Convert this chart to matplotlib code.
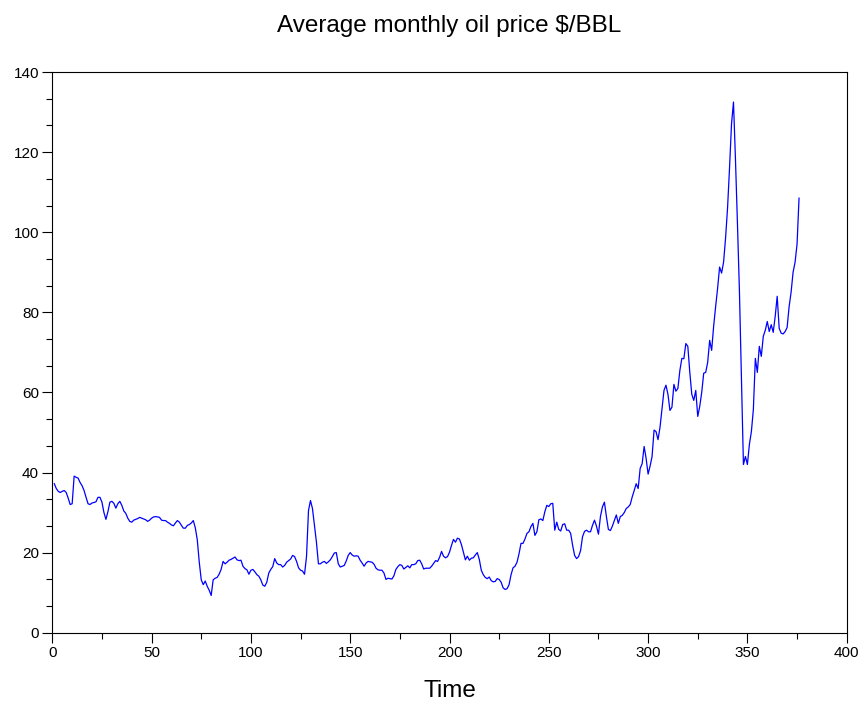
import numpy as np
import matplotlib.pyplot as plt
from matplotlib.ticker import MultipleLocator

plt.rcParams['font.family'] = ['Liberation Sans', 'DejaVu Sans']

# monthly average price, $/BBL (month 1 = Jan 1980)
price_1980_1989 = [
    37.2, 36.0, 35.3, 35.0, 35.3, 35.5, 35.0, 33.6, 32.0, 32.2, 39.1, 38.8,
    38.6, 37.5, 36.7, 35.5, 33.8, 32.2, 32.0, 32.4, 32.5, 32.7, 33.8, 33.8,
    32.6, 30.0, 28.3, 30.2, 32.6, 32.8, 32.3, 31.1, 32.2, 32.8, 31.8, 30.4,
    29.8, 28.6, 27.8, 27.6, 28.1, 28.3, 28.5, 28.8, 28.6, 28.4, 28.2, 27.8,
    28.1, 28.6, 28.9, 29.0, 28.9, 28.8, 28.1, 28.0, 28.0, 27.6, 27.3, 26.9,
    26.7, 27.4, 28.0, 27.6, 26.8, 26.1, 26.1, 26.8, 27.0, 27.4, 28.0, 26.2,
    23.2, 17.6, 13.2, 12.0, 12.9, 11.6, 10.6, 9.3, 13.2, 13.6, 13.8, 14.6,
    15.8, 17.8, 17.2, 17.6, 18.1, 18.3, 18.6, 18.9, 18.2, 18.0, 18.1, 16.6,
    16.0, 15.7, 14.6, 15.6, 15.8, 15.2, 14.5, 14.1, 13.2, 11.9, 11.6, 12.6,
    14.9, 15.8, 16.5, 18.5, 17.4, 17.0, 17.0, 16.4, 16.8, 17.6, 18.0, 18.4,
]
price_1990_1999 = [
    19.3, 19.0, 17.8, 16.2, 15.6, 15.4, 14.6, 19.0, 30.5, 33.0, 31.0, 26.8,
    22.6, 17.2, 17.2, 17.6, 17.8, 17.3, 17.7, 18.2, 19.0, 19.9, 20.0, 17.2,
    16.4, 16.6, 16.8, 17.9, 19.3, 20.0, 19.4, 19.1, 19.2, 19.1, 18.1, 17.4,
    16.6, 17.4, 17.8, 17.7, 17.6, 17.1, 16.1, 15.7, 15.6, 15.6, 14.9, 13.3,
    13.6, 13.5, 13.4, 14.2, 15.8, 16.5, 17.0, 16.8, 15.9, 16.3, 16.7, 16.2,
    17.0, 17.0, 17.2, 18.0, 18.1, 17.2, 15.9, 16.1, 16.1, 16.1, 16.6, 17.3,
    18.0, 17.8, 18.8, 20.3, 19.1, 18.7, 19.0, 20.1, 21.8, 23.3, 22.6, 23.6,
    23.4, 22.0, 20.1, 18.2, 19.1, 18.1, 18.6, 18.7, 19.4, 20.0, 18.3, 15.6,
    14.5, 13.8, 13.5, 13.9, 13.0, 12.7, 12.8, 13.5, 13.3, 12.6, 11.2, 10.8,
    11.0, 12.0, 14.5, 16.2, 16.6, 17.6, 19.7, 22.3, 22.3, 23.4, 24.8, 25.2,
]
price_2000_2011 = [
    26.5, 27.3, 24.3, 25.2, 28.2, 28.4, 28.0, 30.2, 31.8, 31.5, 32.2, 32.3,
    25.6, 27.6, 25.8, 25.4, 27.0, 27.2, 25.6, 25.6, 24.8, 21.8, 19.3, 18.5,
    19.0, 20.5, 24.0, 25.3, 25.6, 25.2, 25.2, 26.8, 28.1, 26.6, 24.6, 29.0,
    31.4, 32.6, 29.0, 25.8, 25.5, 26.6, 28.0, 29.4, 27.3, 29.0, 29.3, 30.0,
    31.0, 31.4, 32.0, 33.9, 35.5, 37.2, 36.0, 41.0, 42.2, 46.5, 43.5, 39.6,
    41.6, 44.0, 50.6, 50.2, 48.2, 51.3, 56.0, 60.5, 61.8, 59.5, 55.5, 56.3,
    62.0, 60.3, 61.0, 65.5, 68.5, 68.4, 72.2, 71.5, 65.0, 59.5, 58.0, 60.5,
    54.0, 56.5, 60.0, 64.8, 65.0, 67.5, 73.0, 70.5, 76.5, 81.4, 86.0, 91.3,
    89.8, 92.5, 98.5, 106.0, 116.0, 127.0, 132.5, 118.0, 102.0, 85.0, 64.0, 42.0,
    44.0, 42.0, 47.0, 50.2, 55.7, 68.5, 65.0, 71.5, 69.0, 74.0, 75.5, 77.7,
    75.2, 76.9, 75.0, 79.0, 84.0, 76.0, 74.8, 74.6, 75.2, 76.2, 81.4, 85.0,
    90.0, 92.5, 97.0, 108.5,
]

price = price_1980_1989 + price_1990_1999 + price_2000_2011
month = np.arange(1, len(price) + 1)

W, H = 863, 702
top, bottom = 72, 632.7
fig = plt.figure(figsize=(W / 100, H / 100), dpi=100)
ax = fig.add_axes([52.3 / W, (H - bottom) / H, (846.7 - 52.3) / W, (bottom - top) / H])

ax.plot(month, price, color='#0000ff', linewidth=0.9)

ax.set_xlim(0, 400)
ax.set_ylim(0, 140)
ax.xaxis.set_major_locator(MultipleLocator(50))
ax.xaxis.set_minor_locator(MultipleLocator(25))
ax.yaxis.set_major_locator(MultipleLocator(20))
ax.yaxis.set_minor_locator(MultipleLocator(20 / 3))

ax.tick_params(which='both', direction='out', top=False, right=False,
               width=0.8, color='black', labelsize=11)
ax.tick_params(which='major', length=7, pad=2.5)
ax.tick_params(which='minor', length=4)
for s in ax.spines.values():
    s.set_linewidth(0.8)

ax.set_xlabel('Time', fontsize=17.5)
ax.xaxis.label.set_va('center')
ax.xaxis.set_label_coords(0.5, -(691 - bottom) / (bottom - top))

ax.text(0.5, 1 + (top - 26) / (bottom - top), r'Average monthly oil price \$/BBL',
        transform=ax.transAxes, ha='center', va='center', fontsize=17.5)

plt.savefig('out.png', dpi=100)
